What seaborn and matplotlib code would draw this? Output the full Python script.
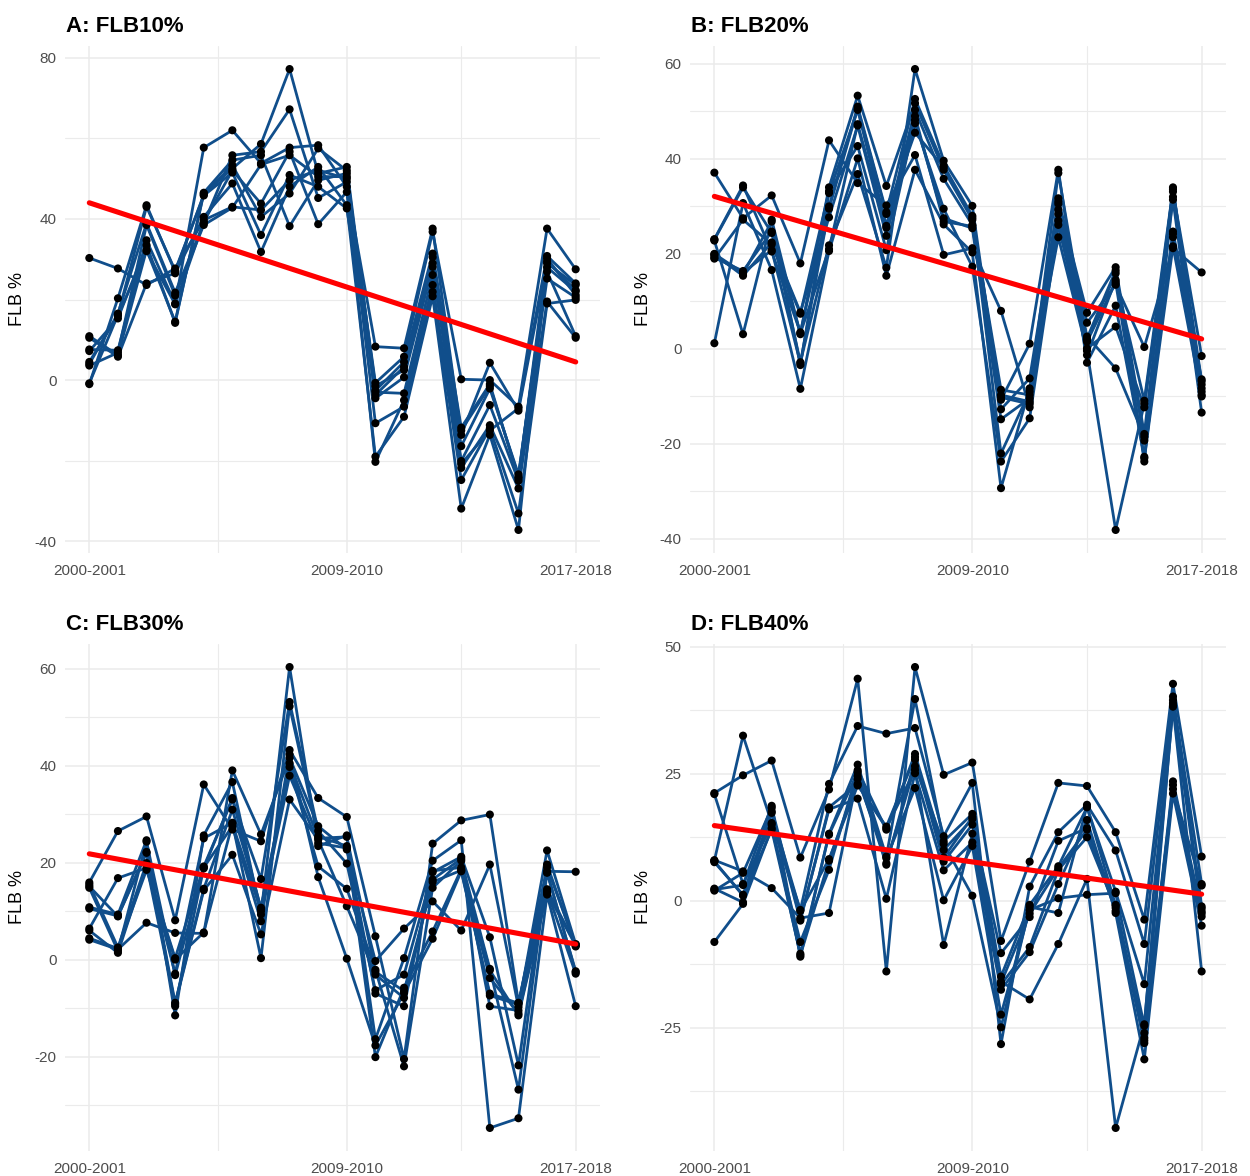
import numpy as np
import pandas as pd
import matplotlib
matplotlib.use("Agg")
import matplotlib.pyplot as plt
from matplotlib.ticker import FixedLocator
import seaborn as sns

# ---------------- data ----------------
SEASONS = ["2000-2001", "2001-2002", "2002-2003", "2003-2004", "2004-2005",
           "2005-2006", "2006-2007", "2007-2008", "2008-2009", "2009-2010",
           "2010-2011", "2011-2012", "2012-2013", "2013-2014", "2014-2015",
           "2015-2016", "2016-2017", "2017-2018"]
SHOWN_LABELS = {0: "2000-2001", 9: "2009-2010", 17: "2017-2018"}

# rows = seasons, columns = series (10 series per panel)
FLB10 = [
    [30.3, 10.9, 7.6, 4.0, -1.0, 10.5, 7.2, 4.5, -0.8, 3.6],
    [27.7, 6.2, 7.4, 16.5, 20.3, 5.8, 15.3, 16.0, 16.2, 6.8],
    [23.6, 32.3, 34.7, 38.9, 43.4, 24.0, 33.5, 32.0, 43.0, 38.5],
    [27.7, 14.5, 19.0, 21.7, 26.9, 26.5, 14.2, 18.8, 27.2, 21.0],
    [39.7, 46.3, 57.7, 38.9, 46.0, 40.5, 46.5, 39.3, 45.8, 38.5],
    [43.0, 52.5, 62.0, 55.8, 53.3, 48.8, 54.6, 52.0, 51.5, 42.8],
    [42.2, 58.6, 53.8, 56.7, 40.5, 31.8, 55.8, 43.8, 36.0, 53.5],
    [49.6, 77.2, 57.7, 67.2, 46.3, 48.0, 38.2, 56.7, 50.9, 55.8],
    [52.1, 51.3, 58.3, 45.2, 57.5, 52.9, 49.6, 38.7, 48.0, 50.5],
    [50.0, 52.9, 48.0, 49.2, 52.0, 43.4, 51.3, 46.7, 42.6, 50.5],
    [-0.7, -2.6, 8.3, -10.7, -3.7, -19.0, -4.5, -20.3, -3.0, -1.5],
    [5.8, 4.5, 7.9, -6.6, 3.3, -9.1, 0.7, -5.0, -3.3, 2.5],
    [36.8, 31.4, 37.6, 21.9, 29.0, 20.8, 28.1, 23.6, 26.1, 30.5],
    [0.2, -11.8, -13.6, -24.8, -16.4, -31.9, -20.1, -21.8, -12.5, -20.8],
    [0.0, -1.0, 4.3, -12.0, -2.1, -13.6, -6.2, -11.2, -1.5, -12.5],
    [-6.6, -24.4, -7.6, -33.1, -23.4, -37.2, -25.0, -26.9, -24.0, -7.0],
    [37.6, 30.2, 29.0, 19.0, 26.9, 29.5, 25.2, 19.5, 28.0, 30.8],
    [27.5, 21.1, 23.6, 19.9, 10.9, 22.3, 20.5, 10.5, 22.0, 24.0],
]

FLB20 = [
    [37.1, 23.1, 19.9, 19.2, 1.2, 22.8, 19.6, 19.0, 20.0, 23.0],
    [27.5, 34.4, 15.4, 16.4, 30.7, 3.1, 15.8, 27.2, 16.0, 34.0],
    [32.3, 20.5, 22.4, 24.7, 16.6, 27.2, 26.8, 22.0, 20.8, 24.4],
    [18.0, 3.5, 7.7, -2.8, -8.4, 3.1, -3.4, 7.4, -3.0, 3.3],
    [43.9, 30.0, 27.7, 21.8, 20.6, 34.0, 32.8, 33.2, 29.5, 21.0],
    [34.9, 51.0, 47.0, 36.8, 40.1, 53.3, 50.3, 42.7, 50.6, 47.3],
    [30.2, 28.8, 23.8, 17.1, 15.4, 34.3, 25.9, 20.8, 28.4, 25.5],
    [40.8, 52.6, 47.5, 58.9, 37.7, 51.7, 50.3, 48.2, 45.5, 49.0],
    [19.8, 38.6, 29.5, 39.6, 26.2, 37.7, 35.8, 27.5, 38.2, 26.8],
    [21.2, 28.0, 17.3, 30.1, 20.3, 27.2, 26.1, 25.4, 27.6, 25.8],
    [8.0, -10.7, -23.7, -12.7, -29.3, -8.6, -9.7, -14.8, -22.0, -10.2],
    [-12.3, 1.1, -14.6, -6.2, -8.3, -9.7, -11.1, -10.4, -9.0, -11.6],
    [31.7, 37.7, 26.1, 31.0, 23.5, 37.0, 29.3, 28.4, 30.5, 27.0],
    [5.5, -2.9, 0.1, 7.6, -0.4, 1.9, -1.3, 2.2, 2.6, 1.5],
    [13.5, 9.1, 4.7, 17.2, -38.1, 15.9, 14.5, 16.5, -4.1, 14.0],
    [0.4, -22.7, -12.3, -17.9, -11.5, -19.3, -10.9, -23.7, -18.5, -23.0],
    [21.2, 24.7, 33.1, 34.0, 31.4, 23.5, 33.6, 32.0, 24.2, 21.6],
    [16.1, -6.4, -1.5, -9.7, -13.4, -8.3, -6.8, -7.5, -9.0, -10.0],
]

FLB30 = [
    [15.9, 4.1, 10.8, 6.4, 15.1, 15.5, 10.5, 6.0, 4.4, 14.8],
    [26.5, 2.1, 9.3, 16.8, 8.9, 2.5, 9.0, 1.4, 2.3, 1.8],
    [29.5, 7.6, 24.6, 18.9, 22.2, 19.9, 22.0, 19.5, 18.5, 24.3],
    [8.1, 5.5, -11.5, 0.3, -8.9, -2.9, -9.6, -9.2, 0.0, -3.2],
    [36.1, 5.4, 25.6, 19.2, 14.6, 25.0, 19.0, 14.3, 5.6, 18.8],
    [26.8, 39.0, 36.6, 33.0, 30.9, 28.2, 27.5, 21.6, 28.0, 33.3],
    [24.4, 25.8, 9.3, 16.6, 10.7, 0.3, 7.9, 5.2, 10.0, 10.4],
    [43.2, 41.6, 60.3, 53.1, 39.7, 52.2, 42.3, 33.0, 37.9, 40.5],
    [33.3, 27.5, 23.4, 26.5, 19.2, 25.4, 17.0, 24.7, 24.0, 25.0],
    [29.4, 22.7, 25.6, 19.8, 14.6, 23.4, 0.2, 11.0, 23.0, 25.3],
    [4.8, -0.3, -16.4, -6.3, -2.1, -20.1, -17.7, -3.1, -7.0, -2.5],
    [-20.5, 6.4, 0.3, -3.1, -22.0, -5.8, -6.9, -7.9, -9.6, -6.5],
    [23.9, 12.0, 20.4, 18.0, 14.8, 5.8, 4.3, 16.5, 18.3, 16.0],
    [28.7, 6.0, 24.6, 21.2, 20.4, 18.6, 18.2, 20.8, 19.0, 18.4],
    [29.9, 19.6, -34.7, 4.6, -1.9, -3.8, -7.4, -9.6, -2.2, -7.0],
    [-8.9, -9.8, -32.7, -21.8, -26.8, -11.1, -9.3, -10.5, -11.5, -9.0],
    [18.2, 22.5, 13.4, 19.6, 17.9, 14.1, 19.0, 18.0, 13.8, 14.5],
    [18.1, 3.2, -9.6, 2.7, -2.4, -2.9, 3.0, -2.6, 2.9, 3.1],
]

FLB40 = [
    [21.2, 7.9, 2.2, -8.1, 8.0, 7.6, 2.0, 21.0, 7.8, 2.4],
    [24.7, 32.5, 3.1, -0.6, 5.8, 1.2, 5.5, 3.3, 1.0, -0.3],
    [27.6, 15.3, 18.7, 14.3, 2.5, 17.6, 18.3, 15.0, 14.0, 17.3],
    [8.5, -1.8, -11.0, -8.1, -3.4, -3.9, -3.6, -10.7, -10.4, -2.0],
    [21.9, 23.0, 13.2, 6.1, -2.4, 18.4, 18.0, 7.9, 13.0, 8.2],
    [43.7, 34.4, 26.8, 25.7, 24.6, 23.0, 20.1, 24.0, 25.3, 22.7],
    [-13.9, 32.9, 8.7, 14.0, 7.1, 14.3, 0.4, 8.4, 7.4, 14.6],
    [46.0, 34.0, 39.7, 28.9, 27.8, 25.8, 25.1, 22.2, 26.5, 28.3],
    [24.8, 12.7, 11.7, 10.0, 7.7, -8.7, 6.0, 0.1, 11.2, 8.5],
    [27.2, 23.2, 17.1, 16.1, 15.0, 13.2, 11.5, 10.8, 1.0, 16.5],
    [-7.9, -28.2, -14.9, -15.9, -10.3, -16.5, -17.5, -22.4, -24.9, -16.2],
    [7.7, 2.8, -0.8, -19.4, -3.2, -9.1, -10.1, -1.8, -1.2, -2.5],
    [23.2, 13.5, 6.8, -8.5, 11.8, 6.1, 3.3, 0.5, -2.4, 6.4],
    [22.6, 18.9, 18.4, 4.3, 14.3, 12.5, 15.9, 1.2, 18.6, 14.0],
    [13.5, 9.9, 1.8, -44.7, -0.8, -1.4, -2.4, 1.5, -1.0, -2.0],
    [-3.7, -8.5, -16.4, -24.3, -27.0, -28.0, -31.2, -24.6, -27.5, -26.0],
    [42.7, 40.2, 38.9, 38.2, 23.5, 22.8, 21.1, 39.5, 38.5, 22.0],
    [8.7, 3.3, -1.1, -13.9, -2.1, -3.1, -4.9, -1.5, -2.5, 3.0],
]

# linear trend (red): value at first and last season
TREND_SEASONS = [0, 17]
TREND_FLB10 = [44.0, 4.5]
TREND_FLB20 = [32.1, 2.1]
TREND_FLB30 = [21.8, 3.2]
TREND_FLB40 = [14.8, 1.3]

PANEL_TITLES = ["A: FLB10%", "B: FLB20%", "C: FLB30%", "D: FLB40%"]
PANEL_DATA = [FLB10, FLB20, FLB30, FLB40]
PANEL_TRENDS = [TREND_FLB10, TREND_FLB20, TREND_FLB30, TREND_FLB40]
Y_MAJOR = [[-40, 0, 40, 80], [-40, -20, 0, 20, 40, 60],
           [-20, 0, 20, 40, 60], [-25, 0, 25, 50]]
Y_MINOR = [[-20, 20, 60], [-30, -10, 10, 30, 50],
           [-30, -10, 10, 30, 50], [-37.5, -12.5, 12.5, 37.5]]

LINE_COLOR = "#104E8B"
TREND_COLOR = "#FF0000"

# ---------------- style ----------------
sns.set_theme(style="white")
plt.rcParams["font.family"] = ["Liberation Sans", "DejaVu Sans"]

W, H = 1250, 1176
fig = plt.figure(figsize=(W / 100, H / 100), dpi=100)
fig.patch.set_facecolor("white")

# panel rectangles in pixels: (left, top, right, bottom)
rects_px = [(65, 46, 600, 553), (690, 46, 1226, 553),
            (65, 644, 600, 1151), (690, 644, 1226, 1151)]

for i, (title, data, trend) in enumerate(zip(PANEL_TITLES, PANEL_DATA,
                                             PANEL_TRENDS)):
    l, t, r, b = rects_px[i]
    ax = fig.add_axes([l / W, 1 - b / H, (r - l) / W, (b - t) / H])

    arr = np.array(data)
    n_season, n_series = arr.shape
    df = pd.DataFrame({
        "season": np.repeat(np.arange(n_season), n_series),
        "series": np.tile(np.arange(n_series), n_season),
        "flb": arr.ravel(),
    })
    trend_df = pd.DataFrame({"season": TREND_SEASONS, "flb": trend})

    ax.set_axisbelow(True)
    sns.lineplot(data=df, x="season", y="flb", units="series", estimator=None,
                 color=LINE_COLOR, linewidth=2.0, ax=ax, zorder=2,
                 legend=False)
    sns.scatterplot(data=df, x="season", y="flb", color="black", s=34,
                    edgecolor="none", ax=ax, zorder=3, legend=False)
    sns.lineplot(data=trend_df, x="season", y="flb", color=TREND_COLOR,
                 linewidth=3.7, ax=ax, zorder=4, legend=False)

    # limits (ggplot-style 5% expansion)
    ymin, ymax = arr.min(), arr.max()
    pad = 0.05 * (ymax - ymin)
    ax.set_ylim(ymin - pad, ymax + pad)
    xpad = 0.05 * (n_season - 1)
    ax.set_xlim(-xpad, n_season - 1 + xpad)

    ax.xaxis.set_major_locator(FixedLocator(list(SHOWN_LABELS.keys())))
    ax.set_xticklabels(list(SHOWN_LABELS.values()))
    ax.xaxis.set_minor_locator(FixedLocator([4.5, 13]))
    ax.yaxis.set_major_locator(FixedLocator(Y_MAJOR[i]))
    ax.set_yticklabels([f"{v:g}" for v in Y_MAJOR[i]])
    ax.yaxis.set_minor_locator(FixedLocator(Y_MINOR[i]))

    ax.grid(which="major", color="#EBEBEB", linewidth=1.1)
    ax.grid(which="minor", color="#EBEBEB", linewidth=0.8)
    for s in ax.spines.values():
        s.set_visible(False)
    ax.tick_params(which="both", length=0)
    ax.tick_params(axis="x", labelsize=11, labelcolor="#4D4D4D", pad=8)
    ax.tick_params(axis="y", labelsize=11, labelcolor="#4D4D4D", pad=6)
    ax.set_xlabel("")
    ax.set_ylabel("")

    # title and y label
    fig.text((l + 1) / W, 1 - (t - 13.5) / H, title, ha="left", va="baseline",
             fontsize=16, fontweight="bold", color="black")
    fig.text((l - 47) / W, 1 - ((t + b) / 2) / H, "FLB %", rotation=90,
             ha="center", va="center", fontsize=13, color="black")

fig.savefig("out.png", dpi=100, facecolor="white")
